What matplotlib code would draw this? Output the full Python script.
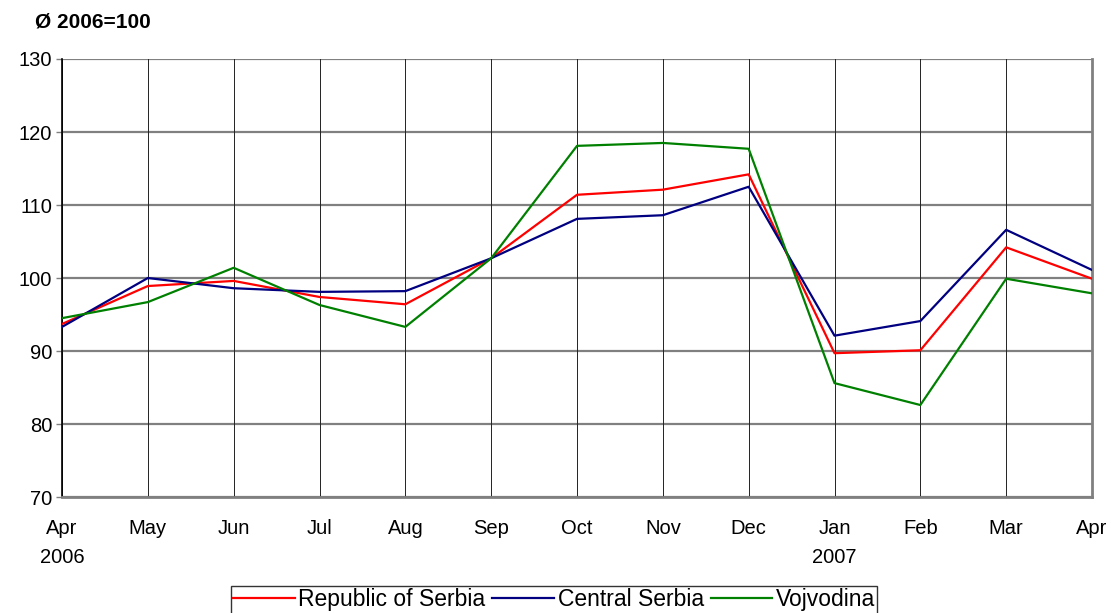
import matplotlib
matplotlib.use("Agg")
import matplotlib.pyplot as plt

plt.rcParams['font.family'] = ['Liberation Sans', 'DejaVu Sans']

months = ["Apr\n2006", "May", "Jun", "Jul", "Aug", "Sep", "Oct", "Nov", "Dec",
          "Jan\n2007", "Feb", "Mar", "Apr"]
serbia = [93.7, 98.9, 99.6, 97.4, 96.4, 102.7, 111.4, 112.1, 114.2, 89.7, 90.1, 104.2, 99.9]
central = [93.3, 100.0, 98.6, 98.1, 98.2, 102.7, 108.1, 108.6, 112.5, 92.1, 94.1, 106.6, 101.1]
vojvodina = [94.5, 96.7, 101.4, 96.3, 93.3, 102.7, 118.1, 118.5, 117.7, 85.6, 82.6, 99.9, 97.9]
yticks = [70, 80, 90, 100, 110, 120, 130]

fig = plt.figure(figsize=(11.11, 6.13), dpi=100)
ax = fig.add_axes([62/1111, 1-497/613, (1092-62)/1111, (497-59)/613])

x = list(range(len(months)))
ax.set_xlim(0, len(months)-1)
ax.set_ylim(70, 130)
ax.set_yticks(yticks)
ax.set_xticks(x)
ax.set_xticklabels(months, fontsize=14.5, linespacing=1.65)
ax.tick_params(axis='y', labelsize=14.5, length=4, color='#808080', width=1, pad=3)
ax.tick_params(axis='x', length=0, pad=16)

for yv in yticks:
    ax.axhline(yv, color='#808080', lw=1.6, zorder=1)
for xv in x:
    ax.axvline(xv, color='#222222', lw=0.7, zorder=1)

ax.plot(x, serbia, color='#ff0000', lw=1.6, zorder=3, label='Republic of Serbia')
ax.plot(x, central, color='#000080', lw=1.6, zorder=3, label='Central Serbia')
ax.plot(x, vojvodina, color='#008000', lw=1.6, zorder=3, label='Vojvodina')

ax.spines['top'].set_visible(False)
ax.spines['left'].set_color('black')
ax.spines['left'].set_linewidth(1.2)
ax.spines['bottom'].set_color('#808080')
ax.spines['bottom'].set_linewidth(2)
ax.spines['right'].set_color('#808080')
ax.spines['right'].set_linewidth(2)

fig.text(35/1111, 1-22/613, "Ø 2006=100", fontsize=15, fontweight='bold', va='center', ha='left')

leg = fig.legend(loc='upper center', bbox_to_anchor=(554/1111, 1-586/613), ncol=3,
                 fontsize=16.5, frameon=True, fancybox=False, edgecolor='black',
                 handlelength=2.7, handletextpad=0.15, columnspacing=0.3,
                 borderpad=0.1, borderaxespad=0)
leg._legend_box.sep = 0
leg.get_frame().set_linewidth(1.0)
for t in leg.get_texts():
    pass
leg._legend_handle_box.pad = 0

fig.savefig("out.png", dpi=100)
